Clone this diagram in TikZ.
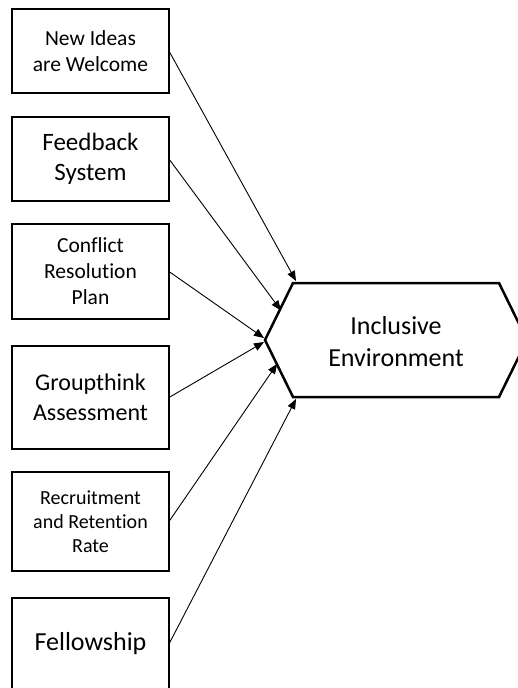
\documentclass[tikz,border=0pt]{standalone}
\usepackage{fontspec}
\setmainfont{Carlito}[Ligatures=NoCommon]
\usetikzlibrary{arrows.meta, positioning, calc}
\tikzstyle{factor_node} = [rectangle, draw=black, line width=2.5pt, outer sep=0pt, minimum width=157pt, text centered, align=center, inner sep=2pt]
\tikzstyle{goal_node} = [text centered, align=center, font=\fontsize{26}{32}\selectfont]
\tikzstyle{goal_edge} = [line width=2.5pt, line join=miter]
\tikzstyle{factor_arrow} = [line width=0.9pt, -{Triangle[length=10pt, width=8pt]}]

\begin{document}
\begin{tikzpicture}[x=1pt, y=-1pt, node distance=25pt]
\useasboundingbox (0,0) rectangle (517,688);
\node (ideas) [factor_node, minimum height=84pt, font=\fontsize{21.5}{26}\selectfont] at (90.5,51) {New Ideas\\are Welcome};
\node (feedback) [factor_node, minimum height=84pt, font=\fontsize{25}{30}\selectfont, below=24pt of ideas] {Feedback\\System};
\node (conflict) [factor_node, minimum height=95pt, font=\fontsize{21.5}{26}\selectfont, below=23pt of feedback] {Conflict\\Resolution\\Plan};
\node (groupthink) [factor_node, minimum height=103pt, font=\fontsize{24}{30}\selectfont, below=27pt of conflict] {Groupthink\\Assessment};
\node (recruit) [factor_node, minimum height=99pt, font=\fontsize{20}{24}\selectfont, below=23pt of groupthink] {Recruitment\\and Retention\\Rate};
\node (fellow) [factor_node, minimum height=92pt, font=\fontsize{26}{30}\selectfont, below=27pt of recruit] {Fellowship};

% Sechseck fuer das Ziel
\coordinate (hex_w) at (265,340);
\coordinate (hex_nw) at (293,283);
\coordinate (hex_ne) at (499,283);
\coordinate (hex_e) at (527,340);
\coordinate (hex_se) at (499,397);
\coordinate (hex_sw) at (293,397);
\draw [goal_edge] (hex_w) -- (hex_nw) -- (hex_ne) -- (hex_e) -- (hex_se) -- (hex_sw) -- cycle;
\node (env) [goal_node] at (396,342) {Inclusive\\Environment};

% Endpunkte der Pfeile am Sechseck
\coordinate (in_ideas) at (296,281);
\coordinate (in_feedback) at ($(hex_w)!0.5!(hex_nw)+(2,-1)$);
\coordinate (in_conflict) at (264,338);
\coordinate (in_groupthink) at (264,342);
\coordinate (in_recruit) at ($(hex_w)!0.4!(hex_sw)+(1,1)$);
\coordinate (in_fellow) at (296,399);

\draw [factor_arrow] (ideas.east) -- (in_ideas);
\draw [factor_arrow] (feedback.east) -- (in_feedback);
\draw [factor_arrow] (conflict.east) -- (in_conflict);
\draw [factor_arrow] (groupthink.east) -- (in_groupthink);
\draw [factor_arrow] (recruit.east) -- (in_recruit);
\draw [factor_arrow] (fellow.east) -- (in_fellow);
\end{tikzpicture}
\end{document}
